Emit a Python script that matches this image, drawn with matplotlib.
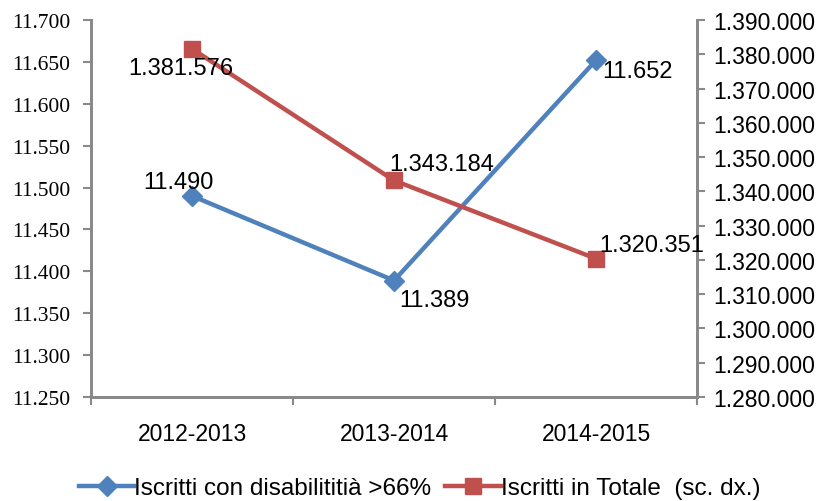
import matplotlib.pyplot as plt
import matplotlib.ticker as ticker

# Data
years = ['2012-2013', '2013-2014', '2014-2015']
disab = [11490, 11389, 11652]
totale = [1381576, 1343184, 1320351]
label_disab = 'Iscritti con disabilititià >66%'
label_tot = 'Iscritti in Totale  (sc. dx.)'

blue = '#4F81BD'
red = '#C0504D'
grey = '#898989'
sans = ['Liberation Sans', 'DejaVu Sans']

def dots(v, pos=None):
    return '{:,.0f}'.format(v).replace(',', '.')

fig = plt.figure(figsize=(8.29, 5.02), dpi=100)
ax = fig.add_axes([0.1098, 0.2072, 0.731, 0.7510])
ax2 = ax.twinx()

x = list(range(len(years)))
l1, = ax.plot(x, disab, color=blue, lw=3.2, marker='D', ms=10, label=label_disab)
l2, = ax2.plot(x, totale, color=red, lw=3.2, marker='s', ms=11, label=label_tot)

ax.set_xlim(-0.5, 2.5)
ax.set_ylim(11250, 11700)
ax.yaxis.set_major_locator(ticker.MultipleLocator(50))
ax.yaxis.set_major_formatter(ticker.FuncFormatter(dots))
ax2.set_ylim(1280000, 1390000)
ax2.yaxis.set_major_locator(ticker.MultipleLocator(10000))
ax2.yaxis.set_major_formatter(ticker.FuncFormatter(dots))

# category boundaries as ticks, names in between
ax.set_xticks([-0.5, 0.5, 1.5, 2.5])
ax.set_xticklabels([])
ax.set_xticks(x, minor=True)
ax.set_xticklabels(years, minor=True, fontsize=16.5, family=sans)
ax.tick_params(axis='x', which='minor', length=0, pad=18)
ax.tick_params(axis='x', which='major', length=6, width=1.5, color=grey)

ax.tick_params(axis='y', length=6, width=1.5, color=grey, labelsize=15.5,
               labelfontfamily='Liberation Serif', pad=9)
ax2.tick_params(axis='y', length=6, width=1.5, color=grey, labelsize=16.5,
                labelfontfamily='Liberation Sans', pad=6)

for a in (ax, ax2):
    a.spines['top'].set_visible(False)
    for s in ('left', 'right', 'bottom'):
        a.spines[s].set_color(grey)
        a.spines[s].set_linewidth(2)

# data labels
disab_off = [(-10, 10), (29, -14), (30, -8)]
tot_off = [(-8, -14), (34, 12), (40, 10)]
for i in x:
    ax.annotate(dots(disab[i]), (x[i], disab[i]), xytext=disab_off[i],
                textcoords='offset points', ha='center', va='center',
                fontsize=17, family=sans)
    ax2.annotate(dots(totale[i]), (x[i], totale[i]), xytext=tot_off[i],
                 textcoords='offset points', ha='center', va='center',
                 fontsize=17, family=sans)

fig.legend(handles=[l1, l2], loc='center', bbox_to_anchor=(0.506, 0.025),
           ncol=2, frameon=False, handlelength=2.3, handletextpad=0.0,
           columnspacing=0.55, prop={'family': sans, 'size': 17.5})

fig.savefig('out.png', dpi=100)
